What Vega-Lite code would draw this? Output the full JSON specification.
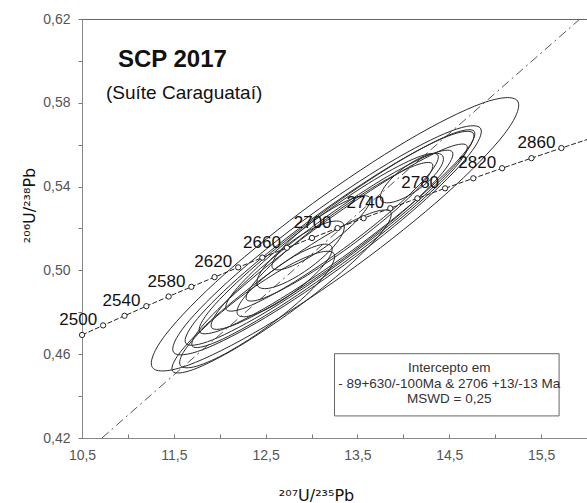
{
  "$schema": "https://vega.github.io/schema/vega-lite/v6.json",
  "width": 505,
  "height": 419,
  "autosize": {"type": "none"},
  "padding": {"left": 82, "top": 19, "right": 0, "bottom": 65},
  "background": "white",
  "config": {
    "view": {"stroke": "#666", "strokeWidth": 1},
    "font": "Liberation Sans"
  },
  "datasets": {
    "one": [{}],
    "conc": [
      {"t": 2480, "x": 10.501, "y": 0.46919},
      {"t": 2500, "x": 10.7297, "y": 0.47375},
      {"t": 2520, "x": 10.963, "y": 0.47833},
      {"t": 2540, "x": 11.201, "y": 0.48293},
      {"t": 2560, "x": 11.4437, "y": 0.48754},
      {"t": 2580, "x": 11.6913, "y": 0.49216},
      {"t": 2600, "x": 11.9437, "y": 0.49679},
      {"t": 2620, "x": 12.2012, "y": 0.50144},
      {"t": 2640, "x": 12.4638, "y": 0.50611},
      {"t": 2660, "x": 12.7316, "y": 0.51079},
      {"t": 2680, "x": 13.0048, "y": 0.51548},
      {"t": 2700, "x": 13.2834, "y": 0.52019},
      {"t": 2720, "x": 13.5675, "y": 0.52492},
      {"t": 2740, "x": 13.8574, "y": 0.52966},
      {"t": 2760, "x": 14.1529, "y": 0.53441},
      {"t": 2780, "x": 14.4544, "y": 0.53918},
      {"t": 2800, "x": 14.7618, "y": 0.54396},
      {"t": 2820, "x": 15.0753, "y": 0.54876},
      {"t": 2840, "x": 15.3951, "y": 0.55357},
      {"t": 2860, "x": 15.7212, "y": 0.5584},
      {"t": 2880, "x": 16.0539, "y": 0.56324}
    ],
    "disc": [
      {"x": 10.717, "y": 0.42},
      {"x": 15.923, "y": 0.62}
    ],
    "ell": [
      {"e":1,"i":0,"x":15.2429,"y":0.5809},{"e":1,"i":1,"x":15.0981,"y":0.56501},{"e":1,"i":2,"x":14.4595,"y":0.53632},{"e":1,"i":3,"x":13.4984,"y":0.50251},{"e":1,"i":4,"x":12.4721,"y":0.47265},{"e":1,"i":5,"x":11.6558,"y":0.45474},{"e":1,"i":6,"x":11.2681,"y":0.45358},{"e":1,"i":7,"x":11.413,"y":0.46947},{"e":1,"i":8,"x":12.0515,"y":0.49816},{"e":1,"i":9,"x":13.0126,"y":0.53197},{"e":1,"i":10,"x":14.0389,"y":0.56183},{"e":1,"i":11,"x":14.8552,"y":0.57974},
      {"e":2,"i":0,"x":14.8395,"y":0.56789},{"e":2,"i":1,"x":14.7114,"y":0.55491},{"e":2,"i":2,"x":14.1701,"y":0.53106},{"e":2,"i":3,"x":13.3603,"y":0.50274},{"e":2,"i":4,"x":12.4992,"y":0.47754},{"e":2,"i":5,"x":11.8175,"y":0.46221},{"e":2,"i":6,"x":11.4977,"y":0.46085},{"e":2,"i":7,"x":11.6258,"y":0.47383},{"e":2,"i":8,"x":12.1671,"y":0.49768},{"e":2,"i":9,"x":12.9769,"y":0.526},{"e":2,"i":10,"x":13.838,"y":0.5512},{"e":2,"i":11,"x":14.5197,"y":0.56654},
      {"e":3,"i":0,"x":14.7611,"y":0.56547},{"e":3,"i":1,"x":14.6345,"y":0.55372},{"e":3,"i":2,"x":14.1224,"y":0.53168},{"e":3,"i":3,"x":13.362,"y":0.50525},{"e":3,"i":4,"x":12.557,"y":0.48153},{"e":3,"i":5,"x":11.9233,"y":0.46687},{"e":3,"i":6,"x":11.6305,"y":0.46519},{"e":3,"i":7,"x":11.7571,"y":0.47695},{"e":3,"i":8,"x":12.2692,"y":0.49899},{"e":3,"i":9,"x":13.0296,"y":0.52541},{"e":3,"i":10,"x":13.8346,"y":0.54913},{"e":3,"i":11,"x":14.4683,"y":0.56379},
      {"e":4,"i":0,"x":14.6908,"y":0.55963},{"e":4,"i":1,"x":14.5608,"y":0.54895},{"e":4,"i":2,"x":14.0651,"y":0.5283},{"e":4,"i":3,"x":13.3364,"y":0.50321},{"e":4,"i":4,"x":12.5701,"y":0.48041},{"e":4,"i":5,"x":11.9715,"y":0.466},{"e":4,"i":6,"x":11.7008,"y":0.46385},{"e":4,"i":7,"x":11.8309,"y":0.47453},{"e":4,"i":8,"x":12.3266,"y":0.49518},{"e":4,"i":9,"x":13.0552,"y":0.52027},{"e":4,"i":10,"x":13.8215,"y":0.54307},{"e":4,"i":11,"x":14.4202,"y":0.55748},
      {"e":5,"i":0,"x":13.8612,"y":0.52797},{"e":5,"i":1,"x":13.7724,"y":0.51861},{"e":5,"i":2,"x":13.3894,"y":0.50157},{"e":5,"i":3,"x":12.8146,"y":0.48141},{"e":5,"i":4,"x":12.2022,"y":0.46354},{"e":5,"i":5,"x":11.7162,"y":0.45274},{"e":5,"i":6,"x":11.4868,"y":0.45191},{"e":5,"i":7,"x":11.5756,"y":0.46127},{"e":5,"i":8,"x":11.9586,"y":0.47831},{"e":5,"i":9,"x":12.5334,"y":0.49847},{"e":5,"i":10,"x":13.1458,"y":0.51634},{"e":5,"i":11,"x":13.6318,"y":0.52714},
      {"e":6,"i":0,"x":13.2431,"y":0.50808},{"e":6,"i":1,"x":13.1951,"y":0.50062},{"e":6,"i":2,"x":12.9361,"y":0.48799},{"e":6,"i":3,"x":12.5355,"y":0.47357},{"e":6,"i":4,"x":12.1007,"y":0.46123},{"e":6,"i":5,"x":11.7481,"y":0.45427},{"e":6,"i":6,"x":11.5723,"y":0.45456},{"e":6,"i":7,"x":11.6203,"y":0.46202},{"e":6,"i":8,"x":11.8793,"y":0.47465},{"e":6,"i":9,"x":12.2799,"y":0.48907},{"e":6,"i":10,"x":12.7147,"y":0.50141},{"e":6,"i":11,"x":13.0673,"y":0.50837},
      {"e":7,"i":0,"x":14.3749,"y":0.5551},{"e":7,"i":1,"x":14.2845,"y":0.54628},{"e":7,"i":2,"x":13.9096,"y":0.52994},{"e":7,"i":3,"x":13.3507,"y":0.51045},{"e":7,"i":4,"x":12.7576,"y":0.49304},{"e":7,"i":5,"x":12.2892,"y":0.48237},{"e":7,"i":6,"x":12.0709,"y":0.4813},{"e":7,"i":7,"x":12.1614,"y":0.49012},{"e":7,"i":8,"x":12.5362,"y":0.50646},{"e":7,"i":9,"x":13.0951,"y":0.52595},{"e":7,"i":10,"x":13.6882,"y":0.54337},{"e":7,"i":11,"x":14.1566,"y":0.55403},
      {"e":8,"i":0,"x":13.3466,"y":0.52236},{"e":8,"i":1,"x":13.3353,"y":0.51726},{"e":8,"i":2,"x":13.2021,"y":0.50952},{"e":8,"i":3,"x":12.9828,"y":0.50123},{"e":8,"i":4,"x":12.736,"y":0.49459},{"e":8,"i":5,"x":12.528,"y":0.4914},{"e":8,"i":6,"x":12.4144,"y":0.4925},{"e":8,"i":7,"x":12.4257,"y":0.4976},{"e":8,"i":8,"x":12.5589,"y":0.50534},{"e":8,"i":9,"x":12.7782,"y":0.51363},{"e":8,"i":10,"x":13.025,"y":0.52027},{"e":8,"i":11,"x":13.233,"y":0.52346},
      {"e":9,"i":0,"x":13.2167,"y":0.51155},{"e":9,"i":1,"x":13.1962,"y":0.50645},{"e":9,"i":2,"x":13.0446,"y":0.49835},{"e":9,"i":3,"x":12.8025,"y":0.4894},{"e":9,"i":4,"x":12.5346,"y":0.48201},{"e":9,"i":5,"x":12.3128,"y":0.47815},{"e":9,"i":6,"x":12.1966,"y":0.47887},{"e":9,"i":7,"x":12.217,"y":0.48397},{"e":9,"i":8,"x":12.3686,"y":0.49208},{"e":9,"i":9,"x":12.6107,"y":0.50102},{"e":9,"i":10,"x":12.8786,"y":0.50841},{"e":9,"i":11,"x":13.1004,"y":0.51227},
      {"e":10,"i":0,"x":13.631,"y":0.53486},{"e":10,"i":1,"x":13.6051,"y":0.52988},{"e":10,"i":2,"x":13.4447,"y":0.52171},{"e":10,"i":3,"x":13.1929,"y":0.51253},{"e":10,"i":4,"x":12.9171,"y":0.50481},{"e":10,"i":5,"x":12.6912,"y":0.50061},{"e":10,"i":6,"x":12.5758,"y":0.50106},{"e":10,"i":7,"x":12.6017,"y":0.50604},{"e":10,"i":8,"x":12.7621,"y":0.51421},{"e":10,"i":9,"x":13.0139,"y":0.52339},{"e":10,"i":10,"x":13.2897,"y":0.53111},{"e":10,"i":11,"x":13.5156,"y":0.53531},
      {"e":11,"i":0,"x":14.4267,"y":0.55478},{"e":11,"i":1,"x":14.4234,"y":0.55082},{"e":11,"i":2,"x":14.3315,"y":0.54506},{"e":11,"i":3,"x":14.1756,"y":0.53903},{"e":11,"i":4,"x":13.9974,"y":0.53435},{"e":11,"i":5,"x":13.8447,"y":0.53228},{"e":11,"i":6,"x":13.7583,"y":0.53337},{"e":11,"i":7,"x":13.7616,"y":0.53732},{"e":11,"i":8,"x":13.8535,"y":0.54308},{"e":11,"i":9,"x":14.0094,"y":0.54911},{"e":11,"i":10,"x":14.1876,"y":0.55379},{"e":11,"i":11,"x":14.3404,"y":0.55586},
      {"e":12,"i":0,"x":14.5332,"y":0.55658},{"e":12,"i":1,"x":14.4279,"y":0.5467},{"e":12,"i":2,"x":13.9998,"y":0.52821},{"e":12,"i":3,"x":13.3635,"y":0.50608},{"e":12,"i":4,"x":12.6895,"y":0.48624},{"e":12,"i":5,"x":12.1585,"y":0.474},{"e":12,"i":6,"x":11.9126,"y":0.47264},{"e":12,"i":7,"x":12.0179,"y":0.48253},{"e":12,"i":8,"x":12.446,"y":0.50101},{"e":12,"i":9,"x":13.0823,"y":0.52314},{"e":12,"i":10,"x":13.7563,"y":0.54298},{"e":12,"i":11,"x":14.2873,"y":0.55522},
      {"e":13,"i":0,"x":14.7723,"y":0.56633},{"e":13,"i":1,"x":14.6486,"y":0.55526},{"e":13,"i":2,"x":14.1576,"y":0.53433},{"e":13,"i":3,"x":13.4307,"y":0.50914},{"e":13,"i":4,"x":12.6626,"y":0.48644},{"e":13,"i":5,"x":12.0593,"y":0.47232},{"e":13,"i":6,"x":11.7823,"y":0.47055},{"e":13,"i":7,"x":11.906,"y":0.48162},{"e":13,"i":8,"x":12.397,"y":0.50255},{"e":13,"i":9,"x":13.1239,"y":0.52774},{"e":13,"i":10,"x":13.892,"y":0.55044},{"e":13,"i":11,"x":14.4953,"y":0.56456},
      {"e":14,"i":0,"x":14.3158,"y":0.55084},{"e":14,"i":1,"x":14.2378,"y":0.54301},{"e":14,"i":2,"x":13.9098,"y":0.5286},{"e":14,"i":3,"x":13.4195,"y":0.51146},{"e":14,"i":4,"x":12.8985,"y":0.4962},{"e":14,"i":5,"x":12.4862,"y":0.4869},{"e":14,"i":6,"x":12.2932,"y":0.48604},{"e":14,"i":7,"x":12.3712,"y":0.49387},{"e":14,"i":8,"x":12.6992,"y":0.50828},{"e":14,"i":9,"x":13.1895,"y":0.52542},{"e":14,"i":10,"x":13.7105,"y":0.54068},{"e":14,"i":11,"x":14.1228,"y":0.54998}
    ]
  },
  "layer": [
    {
      "data": {"name": "disc"},
      "mark": {"type": "line", "color": "#555", "strokeWidth": 1, "strokeDash": [9, 4, 2, 4], "clip": true},
      "encoding": {
        "x": {"field": "x", "type": "quantitative", "scale": {"domain": [10.5, 16], "nice": false, "zero": false},
          "axis": {
            "values": [10.5, 11, 11.5, 12, 12.5, 13, 13.5, 14, 14.5, 15, 15.5, 16],
            "labelExpr": "round(datum.value*2) % 2 == 1 ? replace(format(datum.value, '.1f'), '.', ',') : ''",
            "labelFlush": false, "labelOverlap": false,
            "grid": false, "domainColor": "#888", "tickColor": "#777", "tickSize": -4,
            "labelColor": "#555", "labelFont": "Liberation Sans", "labelFontSize": 14, "labelPadding": 14,
            "title": "²⁰⁷U/²³⁵Pb", "titleFont": "DejaVu Sans", "titleFontSize": 16, "titleFontWeight": "normal", "titleColor": "#111",
            "titleX": 234, "titleY": 62, "titleBaseline": "alphabetic", "titleAlign": "center"
          }},
        "y": {"field": "y", "type": "quantitative", "scale": {"domain": [0.42, 0.62], "nice": false, "zero": false},
          "axis": {
            "values": [0.42, 0.44, 0.46, 0.48, 0.5, 0.52, 0.54, 0.56, 0.58, 0.6, 0.62],
            "labelExpr": "round(datum.value*100) % 4 == 2 ? replace(format(datum.value, '.2f'), '.', ',') : ''",
            "labelFlush": false, "labelOverlap": false,
            "grid": false, "domainColor": "#888", "tickColor": "#777", "tickSize": 4,
            "labelColor": "#555", "labelFont": "Liberation Sans", "labelFontSize": 14, "labelPadding": 8,
            "title": "²⁰⁶U/²³⁸Pb", "titleFont": "DejaVu Sans", "titleFontSize": 16, "titleFontWeight": "normal", "titleColor": "#111",
            "titleAngle": -90, "titleX": -48, "titleY": 186, "titleBaseline": "alphabetic", "titleAlign": "center"
          }}
      }
    },
    {
      "data": {"name": "ell"},
      "mark": {"type": "line", "color": "#2a2a2a", "strokeWidth": 1, "interpolate": "cardinal-closed", "clip": true},
      "encoding": {
        "x": {"field": "x", "type": "quantitative"},
        "y": {"field": "y", "type": "quantitative"},
        "detail": {"field": "e", "type": "nominal"},
        "order": {"field": "i", "type": "quantitative"}
      }
    },
    {
      "data": {"name": "conc"},
      "mark": {"type": "line", "color": "#222", "strokeWidth": 1, "strokeDash": [5, 2], "clip": true},
      "encoding": {
        "x": {"field": "x", "type": "quantitative"},
        "y": {"field": "y", "type": "quantitative"},
        "order": {"field": "t", "type": "quantitative"}
      }
    },
    {
      "data": {"name": "conc"},
      "mark": {"type": "point", "shape": "circle", "filled": true, "fill": "white", "stroke": "#222", "strokeWidth": 1, "size": 28, "opacity": 1},
      "encoding": {
        "x": {"field": "x", "type": "quantitative"},
        "y": {"field": "y", "type": "quantitative"}
      }
    },
    {
      "data": {"name": "conc"},
      "transform": [{"filter": "datum.t % 40 == 20 && datum.t <= 2860"}],
      "mark": {"type": "text", "align": "right", "baseline": "alphabetic", "dx": -6, "dy": 0, "font": "Liberation Sans", "fontSize": 17, "color": "#111"},
      "encoding": {
        "x": {"field": "x", "type": "quantitative"},
        "y": {"field": "y", "type": "quantitative"},
        "text": {"field": "t", "type": "nominal"}
      }
    },
    {
      "data": {"name": "one"},
      "mark": {"type": "text", "align": "left", "baseline": "alphabetic", "font": "Liberation Sans", "fontSize": 24, "fontWeight": "bold", "color": "#111"},
      "encoding": {
        "x": {"datum": 10.891, "type": "quantitative"},
        "y": {"datum": 0.59725, "type": "quantitative"},
        "text": {"value": "SCP 2017"}
      }
    },
    {
      "data": {"name": "one"},
      "mark": {"type": "text", "align": "left", "baseline": "alphabetic", "font": "Liberation Sans", "fontSize": 19, "color": "#111"},
      "encoding": {
        "x": {"datum": 10.761, "type": "quantitative"},
        "y": {"datum": 0.58192, "type": "quantitative"},
        "text": {"value": "(Suíte Caraguataí)"}
      }
    },
    {
      "data": {"name": "one"},
      "mark": {"type": "rect", "fill": "white", "stroke": "#666", "strokeWidth": 1},
      "encoding": {
        "x": {"datum": 13.25, "type": "quantitative"},
        "x2": {"datum": 15.696},
        "y": {"datum": 0.43054, "type": "quantitative"},
        "y2": {"datum": 0.46024}
      }
    },
    {
      "data": {"name": "one"},
      "mark": {"type": "text", "align": "center", "baseline": "middle", "font": "Liberation Sans", "fontSize": 13.5, "color": "#333"},
      "encoding": {
        "x": {"datum": 14.5, "type": "quantitative"},
        "y": {"datum": 0.45353, "type": "quantitative"},
        "text": {"value": "Intercepto em"}
      }
    },
    {
      "data": {"name": "one"},
      "mark": {"type": "text", "align": "center", "baseline": "middle", "font": "Liberation Sans", "fontSize": 13.5, "color": "#333"},
      "encoding": {
        "x": {"datum": 14.5, "type": "quantitative"},
        "y": {"datum": 0.44587, "type": "quantitative"},
        "text": {"value": "- 89+630/-100Ma & 2706 +13/-13 Ma"}
      }
    },
    {
      "data": {"name": "one"},
      "mark": {"type": "text", "align": "center", "baseline": "middle", "font": "Liberation Sans", "fontSize": 13.5, "color": "#333"},
      "encoding": {
        "x": {"datum": 14.5, "type": "quantitative"},
        "y": {"datum": 0.43868, "type": "quantitative"},
        "text": {"value": "MSWD = 0,25"}
      }
    }
  ]
}
